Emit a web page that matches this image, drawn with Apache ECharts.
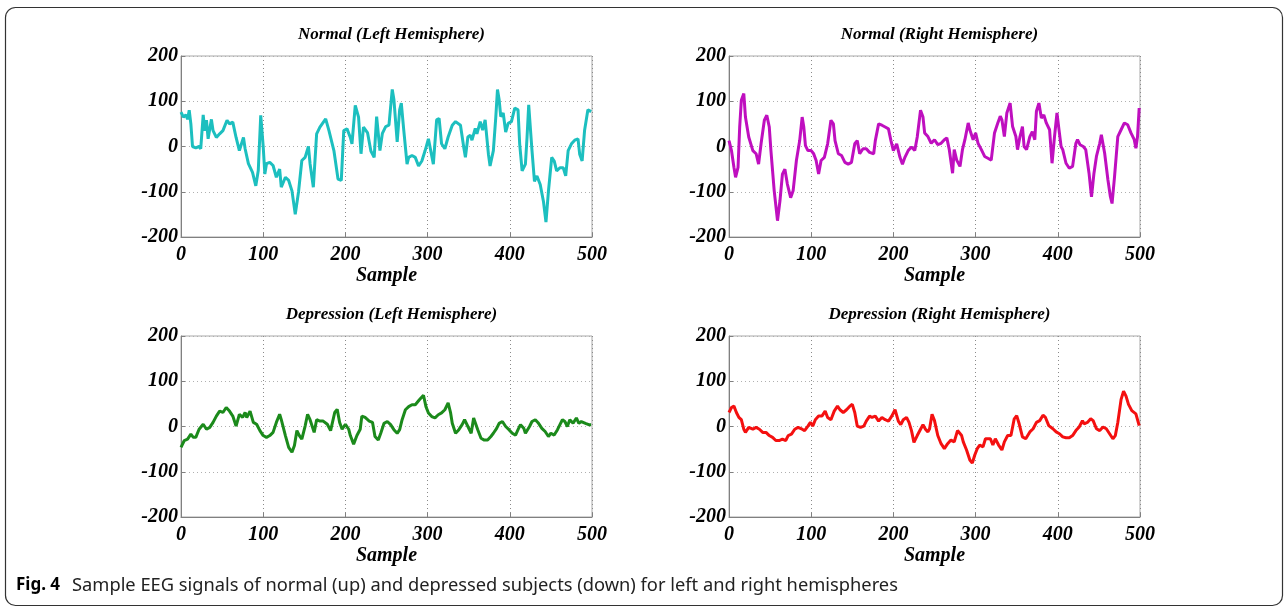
<!DOCTYPE html>
<html>
<head>
<meta charset="utf-8">
<script src="https://cdn.jsdelivr.net/npm/echarts@6/dist/echarts.min.js"></script>
<style>
  html, body { margin: 0; padding: 0; background: #fff; }
  #chart { width: 1288px; height: 608px; }
</style>
</head>
<body>
<div id="chart"></div>
<script>
// samples [sample index, amplitude]
var normalLeft = [[0,76],[3,65],[6,70],[8,60],[10,80],[12,50],[14,0],[18,-3],[22,0],[24,-5],[27,70],[29,35],[31,58],[33,17],[37,60],[39,35],[43,20],[47,28],[51,35],[56,58],[59,50],[63,54],[67,20],[71,-9],[76,20],[78,-5],[82,-38],[87,-57],[91,-87],[94,-53],[97,69],[98,65],[100,0],[102,-61],[104,-38],[108,-35],[112,-42],[116,-68],[120,-50],[122,-90],[127,-68],[131,-75],[135,-98],[139,-150],[143,-100],[147,-31],[151,-24],[155,0],[157,-38],[161,-90],[165,28],[169,43],[176,61],[180,35],[186,-9],[191,-72],[195,-75],[198,35],[202,39],[206,20],[208,6],[212,91],[216,65],[219,-16],[222,43],[227,30],[231,-10],[235,-24],[238,66],[242,-9],[245,29],[249,44],[253,47],[257,126],[259,104],[263,10],[266,81],[268,96],[271,36],[275,-39],[277,-24],[281,-20],[285,-24],[289,-43],[293,-32],[297,-9],[301,17],[303,13],[307,-39],[311,59],[314,62],[317,6],[321,-5],[325,21],[330,47],[334,55],[340,47],[344,-2],[346,-24],[349,21],[352,25],[354,14],[358,40],[360,28],[364,55],[367,36],[370,59],[374,-17],[376,-43],[380,-9],[383,66],[385,126],[387,104],[389,66],[392,74],[395,32],[398,51],[402,55],[406,85],[410,81],[412,6],[415,-54],[419,-39],[421,21],[423,92],[427,-9],[430,-77],[433,-65],[437,-84],[441,-122],[444,-167],[447,-99],[451,-24],[454,-32],[457,-54],[461,-47],[465,-47],[468,-65],[471,-9],[475,6],[479,14],[483,17],[485,-17],[488,-32],[491,36],[495,81],[499,77]];

var normalRight = [[0,13],[3,-9],[6,-46],[8,-68],[11,-46],[13,43],[15,102],[18,117],[20,65],[24,21],[29,-9],[33,-16],[36,-39],[39,6],[43,58],[46,69],[49,43],[51,-9],[55,-98],[59,-164],[62,-120],[65,-61],[68,-50],[71,-83],[75,-113],[78,-98],[82,-31],[86,13],[89,65],[91,43],[93,2],[96,-9],[100,-9],[103,-16],[106,-31],[109,-61],[112,-31],[116,-24],[120,6],[124,58],[127,50],[129,13],[133,-16],[137,-20],[141,-35],[145,-39],[149,-35],[153,6],[156,13],[159,-16],[163,-5],[167,-5],[171,-13],[176,-16],[178,13],[182,50],[186,47],[190,43],[194,39],[197,13],[200,-9],[204,6],[208,-24],[211,-39],[214,-24],[218,-9],[222,-1],[226,-9],[229,21],[233,80],[236,65],[238,30],[242,22],[246,7],[250,15],[254,4],[258,7],[262,15],[265,19],[268,-7],[272,-59],[274,-7],[277,-30],[281,-44],[284,-7],[287,15],[291,52],[293,37],[297,15],[300,30],[303,7],[307,-7],[311,-22],[315,-26],[319,-30],[323,30],[327,52],[330,67],[332,59],[335,22],[338,74],[342,96],[345,44],[349,22],[351,-7],[354,22],[357,44],[359,0],[362,-7],[366,22],[369,33],[372,15],[374,78],[377,96],[380,63],[383,70],[386,52],[390,37],[393,-37],[396,22],[399,74],[401,44],[404,0],[406,-7],[410,-37],[414,-48],[418,-44],[422,7],[424,15],[427,4],[431,0],[434,-7],[438,-59],[441,-111],[444,-59],[447,-22],[451,7],[453,26],[457,-15],[461,-74],[464,-111],[466,-126],[469,-67],[473,22],[477,37],[481,52],[485,48],[489,30],[493,15],[495,-4],[497,22],[499,85]];

var depLeft = [[0,-46],[4,-31],[8,-28],[12,-17],[15,-24],[18,-24],[22,-6],[27,5],[31,-6],[35,-2],[39,9],[43,23],[47,34],[51,31],[55,42],[59,34],[63,23],[67,1],[71,27],[75,20],[78,31],[80,20],[84,34],[88,9],[92,5],[96,-9],[100,-20],[104,-24],[108,-20],[112,-13],[116,9],[120,27],[122,15],[127,-20],[131,-46],[135,-57],[138,-42],[141,-9],[144,-20],[147,-28],[151,1],[154,27],[157,15],[162,-13],[165,15],[169,12],[173,12],[178,5],[182,-9],[187,31],[190,38],[193,9],[196,-6],[200,5],[204,-6],[206,-20],[210,-39],[214,-20],[218,-6],[220,23],[224,20],[229,12],[233,9],[236,-22],[240,-30],[243,-15],[247,7],[251,11],[255,4],[259,-7],[263,-15],[266,-7],[269,15],[273,37],[277,44],[281,48],[285,48],[290,59],[295,69],[298,44],[301,30],[305,22],[309,19],[313,26],[317,30],[321,37],[325,52],[328,30],[330,7],[334,-15],[338,-7],[342,4],[345,15],[349,0],[353,-15],[356,19],[358,22],[361,-7],[365,-26],[369,-30],[373,-30],[377,-22],[380,-15],[384,-4],[387,7],[391,11],[395,0],[399,-7],[403,-15],[407,-19],[410,-7],[413,4],[417,-4],[419,-15],[424,0],[427,11],[431,15],[435,7],[439,-4],[443,-11],[447,-22],[450,-15],[454,-19],[458,-7],[461,4],[464,15],[467,11],[470,0],[473,15],[477,7],[481,19],[484,7],[487,11],[492,7],[496,4],[499,4]];

var depRight = [[0,31],[3,42],[6,45],[9,31],[12,20],[15,15],[18,-6],[20,-13],[24,-2],[29,-6],[33,-2],[37,-6],[41,-13],[45,-13],[49,-20],[53,-24],[57,-31],[61,-31],[65,-28],[69,-31],[72,-20],[76,-17],[80,-6],[84,-2],[89,-6],[92,-9],[96,1],[99,9],[102,1],[105,15],[109,23],[113,23],[117,34],[120,20],[124,15],[128,34],[132,45],[135,37],[139,31],[143,37],[147,45],[150,49],[153,31],[156,1],[160,-2],[164,1],[167,12],[171,23],[174,20],[178,23],[182,12],[186,20],[190,15],[194,12],[198,23],[202,37],[206,12],[209,4],[212,15],[216,20],[219,9],[222,-9],[225,-35],[229,-20],[233,-6],[236,4],[239,-6],[242,-12],[244,-5],[247,27],[250,13],[254,-20],[258,-38],[262,-49],[266,-38],[270,-30],[274,-34],[278,-9],[283,-20],[285,-34],[289,-52],[293,-74],[296,-81],[299,-63],[302,-49],[305,-41],[309,-45],[312,-27],[315,-27],[318,-27],[321,-41],[324,-27],[328,-41],[332,-52],[335,-34],[339,-20],[343,-20],[347,17],[350,24],[353,6],[357,-23],[361,-27],[366,-12],[370,-5],[374,9],[378,13],[382,25],[385,20],[389,2],[394,-5],[398,-12],[402,-16],[406,-23],[410,-25],[414,-25],[418,-20],[422,-9],[426,-1],[430,13],[432,6],[436,9],[440,17],[443,13],[447,-5],[451,-9],[455,-1],[459,-5],[463,-16],[467,-27],[470,-20],[473,9],[477,60],[480,78],[483,67],[486,49],[490,35],[495,28],[499,2]];

var titles = ['Normal (Left Hemisphere)', 'Normal (Right Hemisphere)', 'Depression (Left Hemisphere)', 'Depression (Right Hemisphere)'];
var colors = ['#1cbfbf', '#bf0fbf', '#1b8a1b', '#f41010'];
var seriesData = [normalLeft, normalRight, depLeft, depRight];
var xName = 'Sample';
var caption = 'Sample EEG signals of normal (up) and depressed subjects (down) for left and right hemispheres';

var serif = 'Liberation Serif';
var boxes = [
    {left: 181, top: 56},
    {left: 729, top: 56},
    {left: 181, top: 336},
    {left: 729, top: 336}
];
var W = 411, H = 181;

var grids = [], xAxes = [], yAxes = [], series = [], titleOpts = [];
for (var i = 0; i < 4; i++) {
    grids.push({left: boxes[i].left, top: boxes[i].top, width: W, height: H,
        show: true, borderColor: '#a8a8a8', borderWidth: 1, backgroundColor: '#fff'});
    var lbl = {color: '#000', fontFamily: serif, fontStyle: 'italic', fontWeight: 'bold', fontSize: 20};
    xAxes.push({
        gridIndex: i, type: 'value', min: 0, max: 500, interval: 100,
        name: xName, nameLocation: 'middle', nameGap: 29,
        nameTextStyle: {color: '#000', fontFamily: serif, fontStyle: 'italic', fontWeight: 'bold', fontSize: 20},
        axisLine: {show: true, onZero: false, lineStyle: {color: '#808080', width: 1}},
        axisTick: {show: true, inside: true, length: 4, lineStyle: {color: '#808080'}},
        axisLabel: Object.assign({margin: 8}, lbl),
        splitLine: {show: true, lineStyle: {color: '#8a8a8a', type: [1, 3], width: 1}}
    });
    yAxes.push({
        gridIndex: i, type: 'value', min: -200, max: 200, interval: 100,
        axisLine: {show: true, onZero: false, lineStyle: {color: '#808080', width: 1}},
        axisTick: {show: true, inside: true, length: 4, lineStyle: {color: '#808080'}},
        axisLabel: Object.assign({margin: 3}, lbl),
        splitLine: {show: true, lineStyle: {color: '#b0b0b0', type: [1, 3], width: 1}}
    });
    series.push({
        type: 'line', xAxisIndex: i, yAxisIndex: i, data: seriesData[i],
        showSymbol: false, animation: false,
        lineStyle: {color: colors[i], width: 3}, itemStyle: {color: colors[i]}
    });
    titleOpts.push({
        text: titles[i], left: boxes[i].left + W / 2, top: boxes[i].top - 35, textAlign: 'center',
        textStyle: {color: '#000', fontFamily: serif, fontStyle: 'italic', fontWeight: 'bold', fontSize: 17}
    });
}

var chart = echarts.init(document.getElementById('chart'));
chart.setOption({
    animation: false,
    title: titleOpts,
    grid: grids,
    xAxis: xAxes,
    yAxis: yAxes,
    series: series,
    graphic: [
        {type: 'rect', shape: {x: 5.5, y: 7.5, width: 1277, height: 598, r: 10},
         style: {fill: 'none', stroke: '#333', lineWidth: 1.2}, z: -1},
        {type: 'text', left: 16, top: 577,
         style: {text: 'Fig. 4', fill: '#000', font: 'bold 17px "Noto Sans"'}},
        {type: 'text', left: 72, top: 577,
         style: {text: caption, fill: '#222', font: '18.3px "Noto Sans"'}}
    ]
});
</script>
</body>
</html>
